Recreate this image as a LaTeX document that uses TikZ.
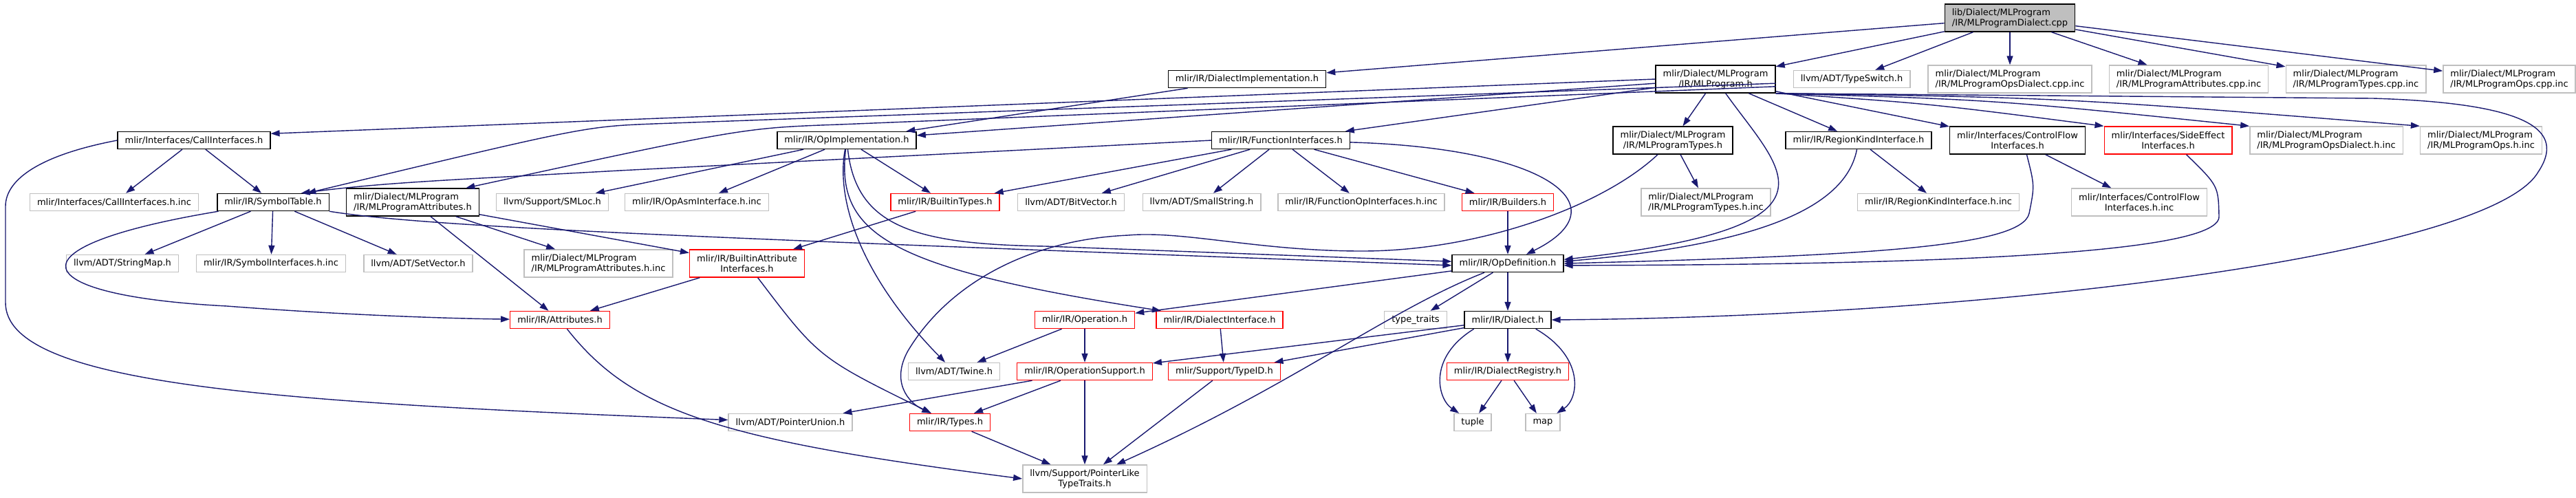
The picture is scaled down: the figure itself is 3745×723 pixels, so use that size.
\documentclass[tikz,border=0pt]{standalone}
\usepackage{fontspec}
\setmainfont{DejaVu Sans}
\usetikzlibrary{arrows.meta}
\definecolor{edgeblue}{HTML}{191970}
\definecolor{nfgrey}{HTML}{BFBFBF}
\newcommand{\hdrfont}{\fontsize{3.7pt}{4.27pt}\selectfont}
\begin{document}
\begin{tikzpicture}[x=0.01cm,y=-0.01cm,
  hdr/.style={draw=black,fill=white,line width=0.4pt,inner xsep=0.105cm,inner ysep=0.04cm,minimum height=0.25cm,font=\hdrfont},
  hdrgrey/.style={hdr,draw=nfgrey},
  hdrred/.style={hdr,draw=red},
  hdrroot/.style={hdr,fill=nfgrey},
  twoc/.style={minimum height=0.40cm,align=center},
  twol/.style={minimum height=0.40cm,align=left},
  incl/.style={draw=edgeblue,line width=0.4pt,-{Triangle[length=0.13cm,width=0.09cm]}}]
\useasboundingbox (0,0) rectangle (3745,723);
\node[hdrroot,twol] (root) at (2922,26) {lib/Dialect/MLProgram\\/IR/MLProgramDialect.cpp};
\node[hdr] (dialimpl) at (1813,115) {mlir/IR/DialectImplementation.h};
\node[hdr,twoc] (mlprog) at (2494,115) {mlir/Dialect/MLProgram\\/IR/MLProgram.h};
\node[hdrgrey] (typeswitch) at (2692,115) {llvm/ADT/TypeSwitch.h};
\node[hdrgrey,twol] (opsdialcpp) at (2922,115) {mlir/Dialect/MLProgram\\/IR/MLProgramOpsDialect.cpp.inc};
\node[hdrgrey,twol] (attrcpp) at (3182,115) {mlir/Dialect/MLProgram\\/IR/MLProgramAttributes.cpp.inc};
\node[hdrgrey,twol] (typescpp) at (3425,115) {mlir/Dialect/MLProgram\\/IR/MLProgramTypes.cpp.inc};
\node[hdrgrey,twol] (opscpp) at (3648,115) {mlir/Dialect/MLProgram\\/IR/MLProgramOps.cpp.inc};
\node[hdr] (callif) at (282,204) {mlir/Interfaces/CallInterfaces.h};
\node[hdr] (opimpl) at (1231,204) {mlir/IR/OpImplementation.h};
\node[hdr] (funcif) at (1862,204) {mlir/IR/FunctionInterfaces.h};
\node[hdr,twoc] (mlptypes) at (2432,204) {mlir/Dialect/MLProgram\\/IR/MLProgramTypes.h};
\node[hdr] (regkind) at (2702,204) {mlir/IR/RegionKindInterface.h};
\node[hdr,twoc] (ctrlflow) at (2933,204) {mlir/Interfaces/ControlFlow\\Interfaces.h};
\node[hdrred,twoc] (sideeff) at (3152,204) {mlir/Interfaces/SideEffect\\Interfaces.h};
\node[hdrgrey,twol] (opsdialinc) at (3382,204) {mlir/Dialect/MLProgram\\/IR/MLProgramOpsDialect.h.inc};
\node[hdrgrey,twol] (opsinc) at (3607,204) {mlir/Dialect/MLProgram\\/IR/MLProgramOps.h.inc};
\node[hdrgrey] (callinc) at (166,294) {mlir/Interfaces/CallInterfaces.h.inc};
\node[hdr] (symtab) at (397,294) {mlir/IR/SymbolTable.h};
\node[hdr,twol] (mlpattr) at (600,294) {mlir/Dialect/MLProgram\\/IR/MLProgramAttributes.h};
\node[hdrgrey] (smloc) at (803,294) {llvm/Support/SMLoc.h};
\node[hdrgrey] (opasminc) at (1013,294) {mlir/IR/OpAsmInterface.h.inc};
\node[hdrred] (builtintypes) at (1374,294) {mlir/IR/BuiltinTypes.h};
\node[hdrgrey] (bitvector) at (1557,294) {llvm/ADT/BitVector.h};
\node[hdrgrey] (smallstring) at (1747,294) {llvm/ADT/SmallString.h};
\node[hdrgrey] (funcopinc) at (1979,294) {mlir/IR/FunctionOpInterfaces.h.inc};
\node[hdrred] (builders) at (2192,294) {mlir/IR/Builders.h};
\node[hdrgrey,twol] (mlptypesinc) at (2480,294) {mlir/Dialect/MLProgram\\/IR/MLProgramTypes.h.inc};
\node[hdrgrey] (regkindinc) at (2818,294) {mlir/IR/RegionKindInterface.h.inc};
\node[hdrgrey,twoc] (ctrlflowinc) at (3110,294) {mlir/Interfaces/ControlFlow\\Interfaces.h.inc};
\node[hdrgrey] (stringmap) at (178,383) {llvm/ADT/StringMap.h};
\node[hdrgrey] (symifinc) at (394,383) {mlir/IR/SymbolInterfaces.h.inc};
\node[hdrgrey] (setvector) at (608,383) {llvm/ADT/SetVector.h};
\node[hdrgrey,twol] (mlpattrinc) at (870,383) {mlir/Dialect/MLProgram\\/IR/MLProgramAttributes.h.inc};
\node[hdrred,twoc] (battrif) at (1086,383) {mlir/IR/BuiltinAttribute\\Interfaces.h};
\node[hdr] (opdef) at (2192,383) {mlir/IR/OpDefinition.h};
\node[hdrred] (attributes) at (814,465) {mlir/IR/Attributes.h};
\node[hdrred] (operation) at (1577,465) {mlir/IR/Operation.h};
\node[hdrred] (dialiface) at (1773,465) {mlir/IR/DialectInterface.h};
\node[hdrgrey] (typetraits) at (2058,465) {type\_traits};
\node[hdr] (dialect) at (2192,465) {mlir/IR/Dialect.h};
\node[hdrgrey] (twine) at (1387,540) {llvm/ADT/Twine.h};
\node[hdrred] (opsupport) at (1577,540) {mlir/IR/OperationSupport.h};
\node[hdrred] (typeid) at (1780,540) {mlir/Support/TypeID.h};
\node[hdrred] (dialreg) at (2192,540) {mlir/IR/DialectRegistry.h};
\node[hdrgrey] (ptrunion) at (1149,614) {llvm/ADT/PointerUnion.h};
\node[hdrred] (types) at (1381,614) {mlir/IR/Types.h};
\node[hdrgrey] (tuple) at (2141,614) {tuple};
\node[hdrgrey] (map) at (2243,614) {map};
\node[hdrgrey,twoc] (ptrlike) at (1577,696) {llvm/Support/PointerLike\\TypeTraits.h};
% root
\draw[incl] (root) -- (dialimpl);
\draw[incl] (root) -- (mlprog);
\draw[incl] (root) -- (typeswitch);
\draw[incl] (root) -- (opsdialcpp);
\draw[incl] (root) -- (attrcpp);
\draw[incl] (root) -- (typescpp);
\draw[incl] (root) -- (opscpp);
% MLProgram.h
\draw[incl] (mlprog.west) -- (callif.5);
\draw[incl] (mlprog.-4) -- (950,180) .. controls (850,184) .. (symtab.15);
\draw[incl] (mlprog.-7) -- (1220,181) .. controls (1080,186) .. (mlpattr.15);
\draw[incl] (mlprog) -- (opimpl);
\draw[incl] (mlprog) -- (funcif);
\draw[incl] (mlprog) -- (mlptypes);
\draw[incl] (mlprog) .. controls (2590,250) and (2700,330) .. (opdef.4);
\draw[incl] (mlprog) -- (regkind);
\draw[incl] (mlprog) -- (ctrlflow);
\draw[incl] (mlprog.south east) .. controls (2800,150) .. (sideeff.north west);
\draw[incl] (mlprog.south east) .. controls (2900,145) .. (opsdialinc.north west);
\draw[incl] (mlprog.south east) .. controls (3000,142) .. (opsinc.north west);
\draw[incl] (mlprog.south east) -- (3450,143) .. controls (3680,150) and (3730,190) .. (3690,250)
  .. controls (3620,370) and (2900,460) .. (dialect.east);
\draw[incl] (dialimpl) -- (opimpl);
% MLProgramTypes.h
\draw[incl] (mlptypes) -- (mlptypesinc);
\draw[incl] (mlptypes) .. controls (2330,300) and (2150,365) .. (1980,365)
  .. controls (1830,365) and (1720,335) .. (1640,342)
  .. controls (1500,348) and (1380,410) .. (1320,510)
  .. controls (1295,555) and (1320,585) .. (types);
% OpImplementation.h
\draw[incl] (opimpl) -- (smloc);
\draw[incl] (opimpl) -- (opasminc);
\draw[incl] (opimpl) -- (builtintypes);
\draw[incl] (opimpl) .. controls (1245,330) and (1330,355) .. (1520,358) -- (opdef.178);
\draw[incl] (opimpl) .. controls (1215,290) and (1250,400) .. (twine);
\draw[incl] (opimpl) .. controls (1215,340) and (1290,390) .. (dialiface);
% FunctionInterfaces.h
\draw[incl] (funcif.west) -- (900,248) .. controls (650,262) and (560,265) .. (symtab.18);
\draw[incl] (funcif) -- (builtintypes);
\draw[incl] (funcif) -- (bitvector);
\draw[incl] (funcif) -- (smallstring);
\draw[incl] (funcif) -- (funcopinc);
\draw[incl] (funcif) -- (builders);
\draw[incl] (funcif) .. controls (2250,215) and (2360,300) .. (opdef);
% CallInterfaces.h
\draw[incl] (callif) -- (callinc);
\draw[incl] (callif) -- (symtab);
\draw[incl] (callif.west) .. controls (60,225) and (8,260) .. (8,300) -- (8,440)
  .. controls (8,560) and (400,585) .. (ptrunion);
% SymbolTable.h
\draw[incl] (symtab) -- (stringmap);
\draw[incl] (symtab) -- (symifinc);
\draw[incl] (symtab) -- (setvector);
\draw[incl] (symtab) .. controls (0,360) and (40,430) .. (330,445)
  .. controls (500,458) and (650,463) .. (attributes);
\draw[incl] (symtab) .. controls (620,330) and (1000,345) .. (opdef.182);
% MLProgramAttributes.h
\draw[incl] (mlpattr) -- (attributes);
\draw[incl] (mlpattr) -- (mlpattrinc);
\draw[incl] (mlpattr) -- (battrif);
\draw[incl] (builtintypes) -- (battrif);
\draw[incl] (battrif) -- (attributes);
\draw[incl] (battrif) .. controls (1190,520) .. (types);
\draw[incl] (attributes) .. controls (920,600) and (1050,640) .. (ptrlike.west);
% OpDefinition.h
\draw[incl] (builders) -- (opdef);
\draw[incl] (opdef) -- (operation);
\draw[incl] (opdef) -- (typetraits);
\draw[incl] (opdef) -- (dialect);
\draw[incl] (opdef) .. controls (2020,450) and (1880,560) .. (ptrlike);
\draw[incl] (regkind) -- (regkindinc);
\draw[incl] (regkind) .. controls (2680,320) and (2500,360) .. (opdef.2);
\draw[incl] (ctrlflow) -- (ctrlflowinc);
\draw[incl] (ctrlflow.-57) .. controls (2958,270) .. (2950,310)
  .. controls (2940,360) and (2700,372) .. (opdef.0);
\draw[incl] (sideeff.-38) .. controls (3225,270) .. (3226,315)
  .. controls (3226,370) and (2800,385) .. (opdef.-2);
% Operation.h, Dialect.h
\draw[incl] (operation) -- (opsupport);
\draw[incl] (operation) -- (twine);
\draw[incl] (dialiface) -- (typeid);
\draw[incl] (dialect) -- (opsupport);
\draw[incl] (dialect) -- (typeid);
\draw[incl] (dialect) -- (dialreg);
\draw[incl] (dialect.-165) .. controls (2075,520) and (2090,580) .. (tuple);
\draw[incl] (dialect.-18) .. controls (2305,520) and (2295,580) .. (map);
\draw[incl] (dialreg) -- (tuple);
\draw[incl] (dialreg) -- (map);
\draw[incl] (opsupport) -- (types);
\draw[incl] (opsupport) -- (ptrlike);
\draw[incl] (opsupport) -- (ptrunion);
\draw[incl] (typeid) -- (ptrlike);
\draw[incl] (types) -- (ptrlike);
\end{tikzpicture}
\end{document}
